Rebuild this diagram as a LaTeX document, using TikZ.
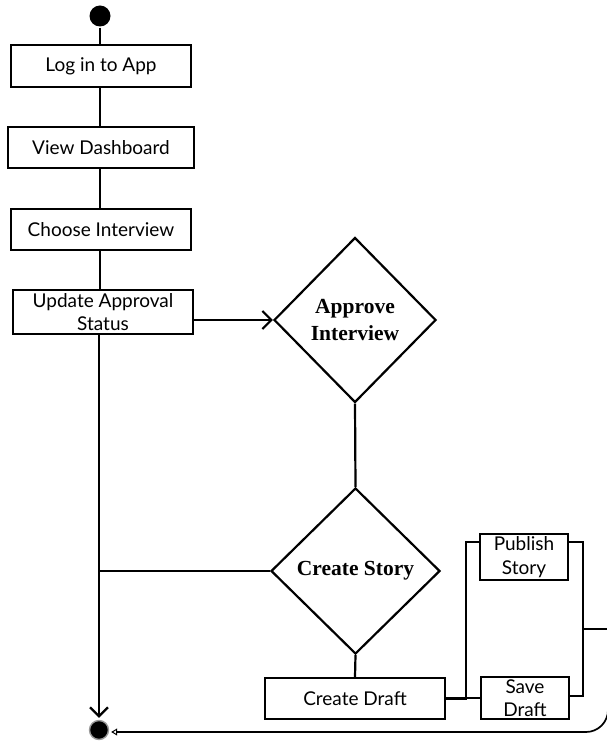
\documentclass[tikz,border=0pt]{standalone}
\usepackage{fontspec}
\setmainfont{Lato}
\newfontfamily\decisionfont{Liberation Serif}
\usetikzlibrary{shapes.geometric,arrows.meta}
\begin{document}
\begin{tikzpicture}[x=1pt,y=-1pt,
  line width=2.2pt,
  action/.style={draw, rectangle, inner sep=0pt, align=center, line width=2.4pt,
    font=\fontsize{19}{23.5}\selectfont},
  decision/.style={draw, diamond, inner sep=0pt, align=center, line width=2.2pt,
    font=\decisionfont\bfseries\fontsize{21.5}{27}\selectfont},
  initial/.style={circle, fill=black, inner sep=0pt, minimum size=21pt},
  final/.style={circle, fill=black, draw=black!40, line width=1.4pt,
    inner sep=0pt, minimum size=19pt},
  barb/.style={-{Straight Barb[length=9pt,width=18pt]}},
  small open/.style={-{Triangle[open,length=6pt,width=7pt,line width=1pt]}},
]
\useasboundingbox (0,0) rectangle (606,743);

% main column
\node[initial] (start) at (100,16) {};
\node[action, minimum width=180pt, minimum height=42pt] (login) at (101,66) {Log in to App};
\node[action, minimum width=186pt, minimum height=41pt] (dash) at (101,147.5) {View Dashboard};
\node[action, minimum width=180pt, minimum height=41pt] (choose) at (101,229.5) {Choose Interview};
\node[action, minimum width=180pt, minimum height=44pt] (update) at (103,312) {Update Approval\\Status};
\node[final] (end) at (99,730) {};

% decisions
\node[decision, minimum width=162pt, minimum height=165pt] (approve) at (355,320) {Approve\\Interview};
\node[decision, minimum width=169pt, minimum height=166pt] (story) at (355.5,571) {Create Story};

% story actions
\node[action, minimum width=180pt, minimum height=41pt] (draft) at (355,698.5) {Create Draft};
\node[action, minimum width=88pt, minimum height=46pt] (publish) at (524,557) {Publish\\Story};
\node[action, minimum width=88pt, minimum height=42pt] (save) at (525,698) {Save\\Draft};

% fork and join bars
\coordinate (forkbar) at (466,0);
\coordinate (joinbar) at (583,0);
\coordinate (pubin) at ([yshift=-9pt]publish.north west);
\coordinate (pubout) at ([yshift=-9pt]publish.north east);
\coordinate (saveout) at ([yshift=2pt]save.east);
\coordinate (merge) at (583,629);
\coordinate (outer) at (608,629);

% column connectors
\draw (start) -- (start |- login.north);
\draw (login.south -| start) -- (dash.north -| start);
\draw (dash.south -| start) -- (choose.north -| start);
\draw (choose.south -| start) -- (update.north -| start);
\draw[barb, shorten >=2pt] (update.south -| end) -- (end.north);

% decision connectors
\draw[barb] (update.east |- approve.west) -- (approve.west);
\draw (approve.south) -- (story.north);
\draw (story.west -| end) -- (story.west);
\draw (story.south) -- (draft.north);

% fork into publish / save
\draw (draft.east) -- (forkbar |- draft.east) -- (forkbar |- pubin) -- (pubin);
\draw (forkbar |- save.west) -- (save.west);

% join back to the final node
\draw (pubout) -- (joinbar |- pubout) -- (joinbar |- saveout) -- (saveout);
\draw (merge) -- (outer);
\draw[small open, rounded corners=22pt, line width=1.7pt, shorten >=2pt]
  (outer) -- (608,732) -- ([yshift=-2pt]end.east);
\end{tikzpicture}
\end{document}
